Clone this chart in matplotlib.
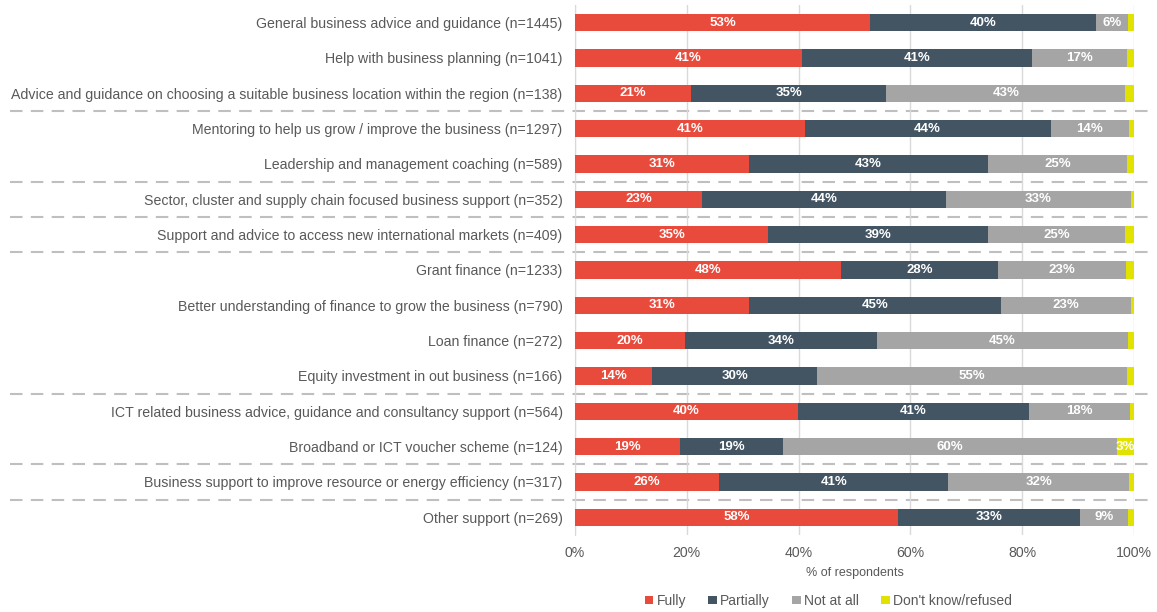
import matplotlib
matplotlib.use("Agg")
import matplotlib.pyplot as plt
from matplotlib.lines import Line2D
from matplotlib.patches import Patch
import matplotlib.transforms as mtransforms
from matplotlib.ticker import FuncFormatter

plt.rcParams['font.family'] = ['Liberation Sans', 'DejaVu Sans']

categories = [
    "General business advice and guidance (n=1445)",
    "Help with business planning (n=1041)",
    "Advice and guidance on choosing a suitable business location within the region (n=138)",
    "Mentoring to help us grow / improve the business (n=1297)",
    "Leadership and management coaching (n=589)",
    "Sector, cluster and supply chain focused business support (n=352)",
    "Support and advice to access new international markets (n=409)",
    "Grant finance (n=1233)",
    "Better understanding of finance to grow the business (n=790)",
    "Loan finance (n=272)",
    "Equity investment in out business (n=166)",
    "ICT related business advice, guidance and consultancy support (n=564)",
    "Broadband or ICT voucher scheme (n=124)",
    "Business support to improve resource or energy efficiency (n=317)",
    "Other support (n=269)",
]

fully     = [52.8, 40.6, 20.8, 41.1, 31.1, 22.7, 34.6, 47.6, 31.1, 19.7, 13.8, 39.9, 18.7, 25.8, 57.8]
partially = [40.4, 41.2, 34.9, 44.0, 42.8, 43.6, 39.3, 28.1, 45.1, 34.3, 29.5, 41.3, 18.6, 41.0, 32.6]
not_at_all = [5.8, 17.0, 42.8, 14.0, 24.9, 33.2, 24.6, 22.9, 23.3, 45.0, 55.4, 18.1, 59.6, 32.4, 8.6]
dont_know = [1.0, 1.2, 1.5, 0.9, 1.2, 0.5, 1.5, 1.4, 0.5, 1.0, 1.3, 0.7, 3.1, 0.8, 1.0]

series_names = ["Fully", "Partially", "Not at all", "Don't know/refused"]
series_colors = ["#E84B3C", "#435463", "#A5A5A5", "#E2E200"]

# rows after which a dashed group separator is drawn
group_breaks = [2, 4, 5, 6, 10, 12, 13]

xticks = [0, 20, 40, 60, 80, 100]

fig = plt.figure(figsize=(11.57, 6.12), dpi=100)
ax = fig.add_axes([0.497, 0.126, 0.483, 0.866])

text_color = "#595959"
rows = list(range(len(categories)))
left = [0.0] * len(categories)
for name, vals, color in zip(series_names, [fully, partially, not_at_all, dont_know], series_colors):
    bars = ax.barh(rows, vals, left=left, height=0.49, color=color, label=name, zorder=3)
    for rect, v in zip(bars, vals):
        if v >= 2.5:
            ax.text(rect.get_x() + rect.get_width() / 2, rect.get_y() + rect.get_height() / 2,
                    f"{v:.0f}%", ha="center", va="center", color="white",
                    fontsize=9.5, fontweight="bold", zorder=4)
    left = [l + v for l, v in zip(left, vals)]

ax.set_xlim(0, 100)
ax.set_ylim(14.5, -0.5)
ax.set_xticks(xticks)
ax.xaxis.set_major_formatter(FuncFormatter(lambda x, p: f"{x:.0f}%"))
ax.set_yticks(rows)
ax.set_yticklabels(categories, fontsize=10.2)
ax.tick_params(axis="both", length=0, colors=text_color)
ax.tick_params(axis="x", pad=8, labelsize=10.2)
ax.tick_params(axis="y", pad=9)
ax.grid(axis="x", color="#D9D9D9", linewidth=1, zorder=0)
for s in ["top", "right", "bottom"]:
    ax.spines[s].set_visible(False)
ax.spines["left"].set_color("#D9D9D9")
ax.set_xlabel("% of respondents", fontsize=9, color=text_color, labelpad=5)

# dashed separators spanning the whole figure width
trans = mtransforms.blended_transform_factory(fig.transFigure, ax.transData)
for r in group_breaks:
    ax.add_line(Line2D([0.009, 0.994], [r + 0.5, r + 0.5], transform=trans,
                       color="#BFBFBF", linewidth=1.5, linestyle=(0, (6, 4)),
                       clip_on=False, zorder=1))

handles = [Patch(facecolor=c, label=n) for n, c in zip(series_names, series_colors)]
fig.legend(handles=handles, loc="center", bbox_to_anchor=(0.716, 0.018), ncol=4,
           frameon=False, fontsize=10, handlelength=0.6, handleheight=0.6,
           handletextpad=0.25, columnspacing=1.6, labelcolor=text_color)

fig.savefig("out.png", dpi=100)
